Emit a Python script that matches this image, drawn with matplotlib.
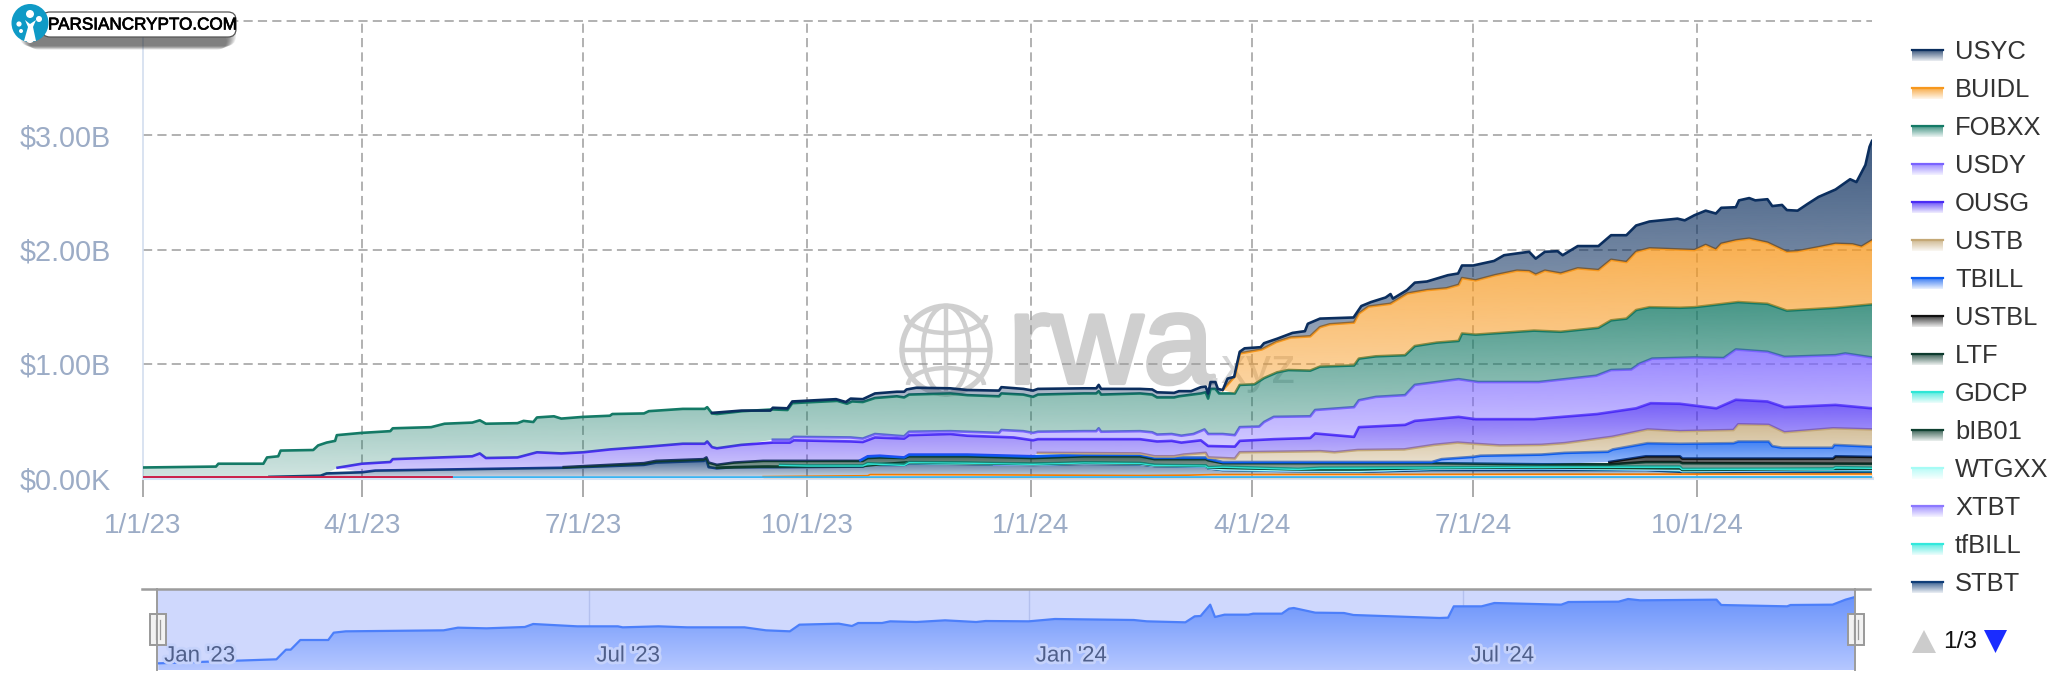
import matplotlib
matplotlib.use("Agg")
import matplotlib.dates as mdates
import matplotlib.patheffects as pe
import matplotlib.pyplot as plt
import numpy as np
from matplotlib.patches import Arc, Circle, Ellipse, FancyBboxPatch, Polygon, Rectangle

plt.rcParams['font.family'] = ['Liberation Sans', 'DejaVu Sans']

# stack tops in $B, each series on its own days since 1/1/23
usyc_days = [234, 246, 255, 258, 259, 265, 267, 276, 285, 289, 291, 296, 301, 310, 313, 314, 318, 332, 339, 352, 353, 362, 366, 368, 387, 392, 393, 394, 410, 415, 417, 424, 426, 431, 435, 437, 438, 439, 441, 442, 444, 446, 448.7, 451, 453, 459.6, 461, 466.5, 472.7, 476, 477.8, 479, 484, 497.8, 501, 505, 511, 513, 514, 519.8, 523, 528, 536.6, 540.8, 542.4, 547, 555.6, 559.7, 570, 572.7, 576.5, 581.7, 583.8, 590, 598.5, 603.7, 610, 614, 619.5, 631, 634, 638, 642.6, 646.8, 649, 655, 656.3, 660.5, 663, 668, 670, 674, 676, 680.4, 684.6, 689, 696, 702, 704.6, 708.3, 710, 711]
usyc_top = [.57, .59, .59, .59, .615, .61, .67, .68, .69, .665, .695, .69, .74, .755, .755, .775, .79, .785, .77, .765, .795, .78, .765, .78, .785, .785, .815, .78, .78, .775, .75, .745, .76, .76, .795, .80, .74, .84, .84, .78, .77, .87, .885, 1.105, 1.135, 1.145, 1.18, 1.22, 1.27, 1.28, 1.285, 1.35, 1.395, 1.405, 1.505, 1.54, 1.58, 1.61, 1.57, 1.645, 1.71, 1.72, 1.775, 1.79, 1.86, 1.86, 1.90, 1.95, 1.98, 1.92, 1.98, 1.985, 1.95, 2.03, 2.03, 2.125, 2.125, 2.21, 2.245, 2.27, 2.255, 2.30, 2.34, 2.315, 2.365, 2.37, 2.43, 2.45, 2.43, 2.44, 2.38, 2.39, 2.345, 2.34, 2.40, 2.46, 2.525, 2.615, 2.59, 2.74, 2.90, 2.95]
buidl_days = [444, 449, 451, 460, 461, 466, 472, 480, 484, 488, 498, 500, 504, 513, 520, 528, 536, 541, 542.4, 548, 556, 565, 570, 572.7, 576.5, 583, 590, 598.5, 603.7, 610, 614, 619.5, 638, 642.6, 646.8, 649, 655, 660.5, 668, 676, 680.4, 689, 696, 703, 706.7, 711]
buidl_top = [.77, .89, 1.09, 1.125, 1.135, 1.19, 1.23, 1.24, 1.32, 1.345, 1.36, 1.44, 1.50, 1.525, 1.615, 1.645, 1.66, 1.69, 1.75, 1.73, 1.775, 1.815, 1.81, 1.78, 1.815, 1.79, 1.835, 1.82, 1.91, 1.89, 1.98, 2.01, 1.995, 2.04, 2.00, 2.05, 2.08, 2.095, 2.06, 1.98, 1.985, 2.02, 2.05, 2.045, 2.025, 2.08]
fobxx_days = [0, 30, 31, 49.5, 51, 55.6, 56.6, 70, 72, 75.5, 79, 79.7, 90, 101.7, 102.7, 118.5, 124, 135.4, 138.5, 141, 154, 156.5, 160.5, 162, 169, 172, 181, 192, 193, 206, 208, 222, 231, 232, 234, 236, 246.5, 259, 265, 267, 276, 285.5, 289.5, 291.6, 296, 301, 310, 313, 315, 332, 339, 352, 353, 362, 366, 368, 387, 392, 393, 394, 410, 415, 417, 424, 426, 435, 437, 438, 439, 441, 442.5, 449, 451, 457, 461, 466.4, 471, 480, 484, 498, 500, 507, 519, 523, 532, 541, 542.4, 548, 572, 583, 598.5, 603.7, 610, 614, 619.5, 632, 638, 656, 668, 676, 696, 711]
fobxx_top = [.092, .10, .125, .125, .18, .19, .24, .245, .285, .31, .325, .375, .395, .41, .435, .445, .475, .485, .505, .475, .48, .50, .49, .53, .54, .52, .535, .545, .56, .565, .585, .605, .605, .62, .565, .56, .585, .60, .595, .655, .665, .675, .65, .67, .665, .70, .715, .705, .73, .74, .725, .715, .74, .73, .71, .73, .74, .74, .76, .73, .74, .73, .705, .705, .715, .74, .75, .695, .78, .78, .74, .74, .815, .82, .875, .925, .945, .94, .975, .985, 1.045, 1.065, 1.075, 1.155, 1.185, 1.20, 1.265, 1.255, 1.29, 1.28, 1.315, 1.38, 1.395, 1.47, 1.495, 1.49, 1.495, 1.54, 1.525, 1.465, 1.49, 1.52]
usdy_days = [259, 266, 267.6, 291, 296, 301, 313, 315, 332, 352, 353, 362, 366, 368, 387, 392, 393, 394, 410, 415, 417, 423, 427, 432, 436.5, 438, 444, 449, 451, 459, 461, 465, 480, 482, 498, 500, 507, 519, 523, 541, 549, 574, 597.6, 603.7, 612, 615.4, 620.6, 638, 650, 655, 668, 675, 696, 700, 711]
usdy_top = [.335, .335, .36, .355, .345, .385, .365, .405, .41, .395, .42, .41, .395, .405, .41, .41, .435, .405, .41, .40, .38, .385, .37, .385, .425, .385, .385, .375, .445, .45, .49, .535, .54, .595, .62, .68, .71, .725, .815, .865, .84, .84, .895, .945, .95, 1.0, 1.045, 1.055, 1.05, 1.125, 1.105, 1.06, 1.075, 1.09, 1.055]
ousg_days = [80, 90, 101.7, 102.7, 135.4, 138.5, 141, 154, 162, 172, 181, 192, 208, 222, 231, 232, 234, 236, 246, 259, 266, 267.6, 291, 296, 301, 313, 315, 332, 339, 358, 366, 368, 410, 417, 423, 427, 435, 438, 449, 451, 465, 480, 482, 498, 500, 519, 523, 541, 548, 572, 598, 614, 620, 632, 647, 655, 668, 675, 696, 711]
ousg_top = [.09, .125, .14, .165, .19, .215, .175, .18, .225, .215, .225, .25, .275, .30, .30, .32, .27, .26, .29, .31, .31, .33, .32, .315, .355, .345, .375, .385, .37, .355, .33, .34, .34, .32, .325, .31, .33, .28, .275, .325, .34, .35, .39, .36, .445, .465, .50, .535, .515, .515, .56, .61, .655, .65, .61, .685, .67, .62, .64, .61]
ustb_days = [368, 410, 416, 424, 428, 437, 438, 449, 451, 484, 490, 499.5, 518.6, 531, 540.6, 547, 558, 575, 584.6, 604, 618.7, 632, 654, 656, 668.5, 675, 695, 711]
ustb_top = [.22, .215, .19, .19, .205, .22, .18, .17, .225, .235, .225, .245, .25, .29, .31, .30, .285, .29, .305, .36, .425, .41, .42, .47, .465, .40, .435, .425]
tbill_days = [295, 298, 303, 313, 315, 339, 366, 387, 410, 416, 437, 438, 444, 530, 534, 547, 550, 575, 584.6, 602.4, 604.4, 618.7, 632, 654, 656, 668.5, 670, 674, 694.7, 695.5, 711]
tbill_top = [.155, .19, .195, .18, .205, .205, .19, .205, .205, .18, .18, .17, .14, .14, .165, .185, .195, .205, .22, .23, .25, .305, .30, .305, .32, .32, .28, .265, .265, .29, .275]
ustbl_days = [603, 609, 618, 632, 633, 668.5, 695, 696, 711]
ustbl_top = [.14, .16, .19, .19, .17, .17, .17, .19, .185]
ltf_days = [173, 206, 211, 230.5, 231.7, 232.6, 236, 243, 255, 273, 296, 298, 303, 313, 315, 339, 366, 387, 410, 416, 437, 438, 444, 530, 575, 603, 618, 632, 633, 711]
ltf_top = [.095, .13, .15, .165, .18, .135, .115, .135, .15, .15, .15, .175, .18, .175, .19, .19, .175, .19, .19, .165, .165, .155, .13, .13, .12, .12, .14, .14, .13, .125]
gdcp_days = [262, 273, 296, 298, 303, 313, 315, 339, 366, 387, 410, 416, 437, 438, 444, 475, 484, 530, 575, 618, 632, 633, 695, 696, 711]
gdcp_top = [.115, .11, .11, .13, .125, .115, .14, .135, .125, .137, .132, .115, .11, .095, .10, .08, .09, .093, .10, .10, .10, .08, .083, .095, .09]
bib01_days = [236, 255, 296, 303, 315, 366, 387, 410, 416, 437, 438, 444, 475, 500, 530, 575, 632, 633, 711]
bib01_top = [.09, .10, .105, .12, .137, .122, .132, .127, .112, .107, .092, .09, .075, .075, .088, .092, .085, .07, .082]
wtgxx_days = [300, 315, 366, 387, 410, 416, 437, 438, 444, 475, 500, 530, 575, 632, 633, 711]
wtgxx_top = [.12, .135, .12, .13, .125, .11, .105, .09, .078, .067, .064, .084, .089, .074, .064, .079]
xtbt_days = [350, 366, 387, 410, 416, 437, 438, 444, 475, 500, 530, 575, 632, 633, 711]
xtbt_top = [.12, .119, .129, .124, .109, .104, .089, .076, .065, .062, .082, .087, .072, .062, .077]
tfbill_days = [300, 315, 366, 387, 410, 416, 437, 438, 444, 475, 500, 530, 575, 632, 633, 711]
tfbill_top = [.118, .133, .118, .128, .123, .108, .103, .088, .074, .063, .06, .08, .085, .07, .06, .075]
stbt_days = [52, 73, 75.5, 90, 95.5, 173, 206, 211, 230.5, 231.7, 232.6, 236, 243, 262, 296, 298, 303, 313, 315, 366, 387, 410, 416, 437, 438, 444, 475, 500, 530, 575, 618, 632, 640, 668, 711]
stbt_top = [.01, .02, .04, .05, .065, .09, .115, .135, .15, .16, .095, .085, .095, .095, .10, .12, .115, .115, .13, .115, .125, .12, .105, .10, .085, .07, .06, .055, .07, .07, .07, .055, .05, .055, .05]
# thin series from the later legend pages, names not visible
thin_orange_days = [255, 298, 299, 339, 410, 430, 440, 575, 711]
thin_orange_top = [.012, .02, .03, .028, .022, .025, .03, .033, .035]
thin_blue_days = [0, 711]
thin_blue_top = [.006, .008]
thin_red_days = [0, 127]
thin_red_top = [.007, .007]

legend_names = ['USYC', 'BUIDL', 'FOBXX', 'USDY', 'OUSG', 'USTB', 'TBILL', 'USTBL', 'LTF', 'GDCP', 'bIB01', 'WTGXX', 'XTBT', 'tfBILL', 'STBT']
legend_days = [usyc_days, buidl_days, fobxx_days, usdy_days, ousg_days, ustb_days, tbill_days, ustbl_days, ltf_days, gdcp_days, bib01_days, wtgxx_days, xtbt_days, tfbill_days, stbt_days]
legend_tops = [usyc_top, buidl_top, fobxx_top, usdy_top, ousg_top, ustb_top, tbill_top, ustbl_top, ltf_top, gdcp_top, bib01_top, wtgxx_top, xtbt_top, tfbill_top, stbt_top]
legend_colors = ['#0b2e5e', '#f7981d', '#147a66', '#7a63ff', '#4a2cf5', '#c4a876', '#0a5cf0', '#111111', '#0d3b2e', '#2ee6d6', '#0f4030', '#a6fbf5', '#8c78ff', '#33e8dc', '#0f3d78']

x_tick_dates = ['2023-01-01', '2023-04-01', '2023-07-01', '2023-10-01', '2024-01-01', '2024-04-01', '2024-07-01', '2024-10-01']
x_tick_labels = ['1/1/23', '4/1/23', '7/1/23', '10/1/23', '1/1/24', '4/1/24', '7/1/24', '10/1/24']
y_ticks = [0, 1, 2, 3, 4]
y_tick_labels = ['$0.00K', '$1.00B', '$2.00B', '$3.00B', '$4.00B']

# navigator curve, own relative scale
nav_days = [0.7, 50, 54, 56, 60, 71.7, 74, 79, 120, 126, 138, 154, 157.5, 176, 193, 195, 210, 222, 246, 255, 265, 269, 285.5, 291, 293.6, 303.6, 307, 318, 330, 343, 347, 365, 376, 409, 414.5, 430.6, 434.5, 437, 441, 443, 447, 457, 459, 471, 474, 476, 485, 497, 501, 537, 540.6, 543, 554.6, 560, 588, 591, 612, 616, 621, 653, 655, 682.6, 684, 701.6, 707, 711]
nav_values = [20, 32, 61, 61, 90, 90, 112, 116, 119, 127, 125, 129, 138, 131, 131, 128, 131, 128, 128, 119, 116, 136, 139, 132, 141, 141, 146, 144, 149, 144, 147, 146, 153, 150, 146, 143, 161, 162, 196, 159, 166, 166, 169, 169, 184, 186, 172, 171, 165, 156, 157, 191, 191, 201, 196, 204, 205, 213, 209, 211, 195, 191, 195, 196, 211, 219]
nav_tick_dates = ['2023-01-01', '2023-07-01', '2024-01-01', '2024-07-01']
nav_tick_labels = ["Jan '23", "Jul '23", "Jan '24", "Jul '24"]

W, H = 2062, 684
start = mdates.date2num(np.datetime64('2023-01-01'))


def to_num(days):
    return start + np.asarray(days, dtype=float)


def px_axes(left, top, right, bottom):
    return [left / W, 1 - bottom / H, (right - left) / W, (bottom - top) / H]


def gradient(color, strong, weak, n=128):
    rgba = np.zeros((n, 1, 4))
    rgba[:, 0, :3] = matplotlib.colors.to_rgb(color)
    rgba[:, 0, 3] = np.linspace(strong, weak, n)
    return rgba


fig = plt.figure(figsize=(W / 100, H / 100), dpi=100, facecolor='white')

# watermark sits under the transparent chart
bg = fig.add_axes([0, 0, 1, 1], zorder=-1)
bg.set_xlim(0, W)
bg.set_ylim(H, 0)
bg.axis('off')
wm = '#cfcfcf'
bg.add_patch(Circle((946, 350), 44, fill=False, ec=wm, lw=3.8))
bg.add_patch(Ellipse((946, 350), 46, 88, fill=False, ec=wm, lw=3.2))
bg.plot([946, 946], [306, 394], color=wm, lw=3.2)
bg.plot([902, 990], [350, 350], color=wm, lw=3.2)
bg.add_patch(Arc((946, 315), 80, 36, theta1=0, theta2=180, ec=wm, lw=3.2))
bg.add_patch(Arc((946, 385), 76, 34, theta1=180, theta2=360, ec=wm, lw=3.2))
bg.text(1008, 383, 'rwa', fontsize=92, color=wm, va='baseline', ha='left', path_effects=[pe.withStroke(linewidth=3, foreground=wm)])
bg.text(1207, 383, '.xyz', fontsize=36, color='#d6d6d6', va='baseline', ha='left')

ax = fig.add_axes(px_axes(143, 21, 1872, 478), zorder=1)
ax.patch.set_alpha(0)
ax.set_axisbelow(True)

env_d = np.array(thin_orange_days, dtype=float)
env_t = np.array(thin_orange_top, dtype=float)
env_d = np.concatenate([np.array(thin_blue_days[:1], dtype=float), env_d])
env_t = np.concatenate([np.array(thin_blue_top[:1], dtype=float), env_t])

# bottom of the stack first so each band knows what lies under it
bands = []
for i in range(len(legend_names) - 1, -1, -1):
    d = np.array(legend_days[i], dtype=float)
    t = np.array(legend_tops[i], dtype=float)
    keep = env_d >= d[0]
    poly_x = np.concatenate([d, env_d[keep][::-1]])
    poly_y = np.concatenate([t, env_t[keep][::-1]])
    bands.append((i, d, t, poly_x, poly_y))
    old = env_d < d[0]
    env_d = np.concatenate([env_d[old], d])
    env_t = np.concatenate([env_t[old], t])

for i, d, t, poly_x, poly_y in bands:
    z = 20 + (len(legend_names) - i) * 2
    color = legend_colors[i]
    patch = Polygon(np.column_stack([to_num(poly_x), poly_y]), closed=True, fc='none', ec='none', transform=ax.transData)
    ax.add_patch(patch)
    im = ax.imshow(gradient(color, 0.78, 0.2), extent=[start, start + 711, 0, t.max()], origin='upper', aspect='auto', interpolation='bilinear', zorder=z)
    im.set_clip_path(patch)
    ax.plot(to_num(d), t, color=color, lw=1.9, zorder=z + 1, solid_joinstyle='round')

ax.fill_between(to_num(thin_orange_days), 0, thin_orange_top, color='#f7a24d', alpha=0.35, lw=0, zorder=60)
ax.plot(to_num(thin_orange_days), thin_orange_top, color='#f57c00', lw=1.2, zorder=61)
ax.plot(to_num(thin_blue_days), thin_blue_top, color='#3ab4f2', lw=1.5, zorder=62)
ax.plot(to_num(thin_red_days), thin_red_top, color='#d8153c', lw=1.3, zorder=63)

ax.set_xlim(start, start + 711)
ax.set_ylim(0, 4)
ax.set_xticks([mdates.date2num(np.datetime64(v)) for v in x_tick_dates])
ax.set_xticklabels(x_tick_labels)
ax.set_yticks(y_ticks)
ax.set_yticklabels(y_tick_labels)
ax.grid(True, color='#9c9c9c', lw=1.1, linestyle=(0, (6, 3.4)))
ax.get_xgridlines()[0].set_visible(False)
ax.get_ygridlines()[0].set_visible(False)
for g in ax.get_ygridlines() + ax.get_xgridlines():
    g.set_clip_on(False)
ax.tick_params(axis='x', length=13.7, width=1.2, color='#9c9c9c', labelsize=20, labelcolor='#9cacc6', pad=11.5)
ax.tick_params(axis='y', length=0, labelsize=20.7, labelcolor='#9cacc6', pad=23)
for s in ['top', 'right']:
    ax.spines[s].set_visible(False)
ax.spines['left'].set_color('#d3deef')
ax.spines['left'].set_linewidth(1.2)
ax.spines['bottom'].set_color('#d5e3f5')
ax.spines['bottom'].set_linewidth(2.2)

# navigator
nav = fig.add_axes(px_axes(157, 589, 1855, 670), zorder=2, facecolor='#cfd8fd')
nav.set_xlim(start, start + 711)
nav.set_ylim(0, 243)
nav_patch = Polygon(np.column_stack([to_num([nav_days[0]] + nav_days + [nav_days[-1]]), [0] + nav_values + [0]]), closed=True, fc='none', ec='none', transform=nav.transData)
nav.add_patch(nav_patch)
nav_rgb = np.zeros((64, 1, 3))
nav_rgb[:, 0, :] = np.linspace(matplotlib.colors.to_rgb('#6b94fb'), matplotlib.colors.to_rgb('#b5c7ff'), 64)
nav_im = nav.imshow(nav_rgb, extent=[start, start + 711, 0, 219], origin='upper', aspect='auto', interpolation='bilinear', zorder=2)
nav_im.set_clip_path(nav_patch)
nav.plot(to_num(nav_days), nav_values, color='#4c7ffa', lw=1.6, zorder=3)
nav.set_xlim(start, start + 711)
nav.set_ylim(0, 243)
nav.set_yticks([])
nav.set_xticks([])
for v, lab in zip(nav_tick_dates, nav_tick_labels):
    p = mdates.date2num(np.datetime64(v))
    if v != nav_tick_dates[0]:
        nav.axvline(p, color='#b4c0ee', lw=1, zorder=1.5)
    nav.text(p + 3, 42, lab, fontsize=16, color='#4f5f8a', ha='left', va='center', zorder=5, path_effects=[pe.withStroke(linewidth=4, foreground='#c5d2fb')])
for s in nav.spines.values():
    s.set_visible(False)

# legend, pager, logo and navigator furniture in pixel coordinates
top = fig.add_axes([0, 0, 1, 1], zorder=5)
top.patch.set_alpha(0)
top.axis('off')
top.plot([142, 1870], [589, 589], color='#9c9c9c', lw=1.8)
top.plot([157, 157], [589, 670], color='#9c9c9c', lw=1.4)
top.plot([1855, 1855], [589, 670], color='#9c9c9c', lw=1.4)
for hx in [157.5, 1855.5]:
    top.add_patch(Rectangle((hx - 8, 614), 16, 31, fc='#f2f2f2', ec='#999999', lw=1.4))
    top.plot([hx - 2, hx - 2], [620, 639], color='#999999', lw=0.9)
    top.plot([hx + 2, hx + 2], [620, 639], color='#999999', lw=0.9)

for i, name in enumerate(legend_names):
    yc = 51.8 + 38.0 * i
    top.imshow(gradient(legend_colors[i], 0.8, 0.08), extent=[1912, 1943, yc + 9, yc - 2], origin='upper', aspect='auto', interpolation='bilinear')
    top.plot([1912, 1943], [yc - 2, yc - 2], color=legend_colors[i], lw=1.6)
    top.text(1955, yc, name, fontsize=18.4, color='#333333', ha='left', va='center')

top.add_patch(Polygon([[1912, 653], [1936, 653], [1924, 630]], closed=True, fc='#cccccc', ec='none'))
top.text(1943, 642.5, '1/3', fontsize=17.6, color='#111111', ha='left', va='center')
top.add_patch(Polygon([[1984, 630], [2007, 630], [1995.5, 653]], closed=True, fc='#1a2cff', ec='none'))

for k in range(10):
    top.add_patch(FancyBboxPatch((20 + k, 18 + k * 1.6), 216 - 2 * k, 28 - k * 1.2, boxstyle='round,pad=0,rounding_size=10', fc='#222222', ec='none', alpha=0.08))
top.add_patch(FancyBboxPatch((42, 12), 194, 25, boxstyle='round,pad=0,rounding_size=8', fc='white', ec='#555555', lw=0.9))
top.text(48, 25, 'PARSIANCRYPTO.COM', fontsize=12.3, color='black', ha='left', va='center', path_effects=[pe.withStroke(linewidth=0.5, foreground='black')])
top.add_patch(Ellipse((30, 23), 37, 38, fc='#0f9ac6', ec='none'))
top.add_patch(Polygon([[24, 41], [36, 41], [33, 27], [36, 20], [30, 24], [25, 20], [28, 27]], closed=True, fc='white', ec='none'))
for cx, cy, r in [(30, 14, 4), (19, 24, 2.6), (39, 19, 3), (21, 31, 2)]:
    top.add_patch(Circle((cx, cy), r, fc='white', ec='none'))
top.add_patch(Circle((30, 39), 4, fc='white', ec='none'))
top.set_xlim(0, W)
top.set_ylim(H, 0)

fig.savefig('out.png', dpi=100)
